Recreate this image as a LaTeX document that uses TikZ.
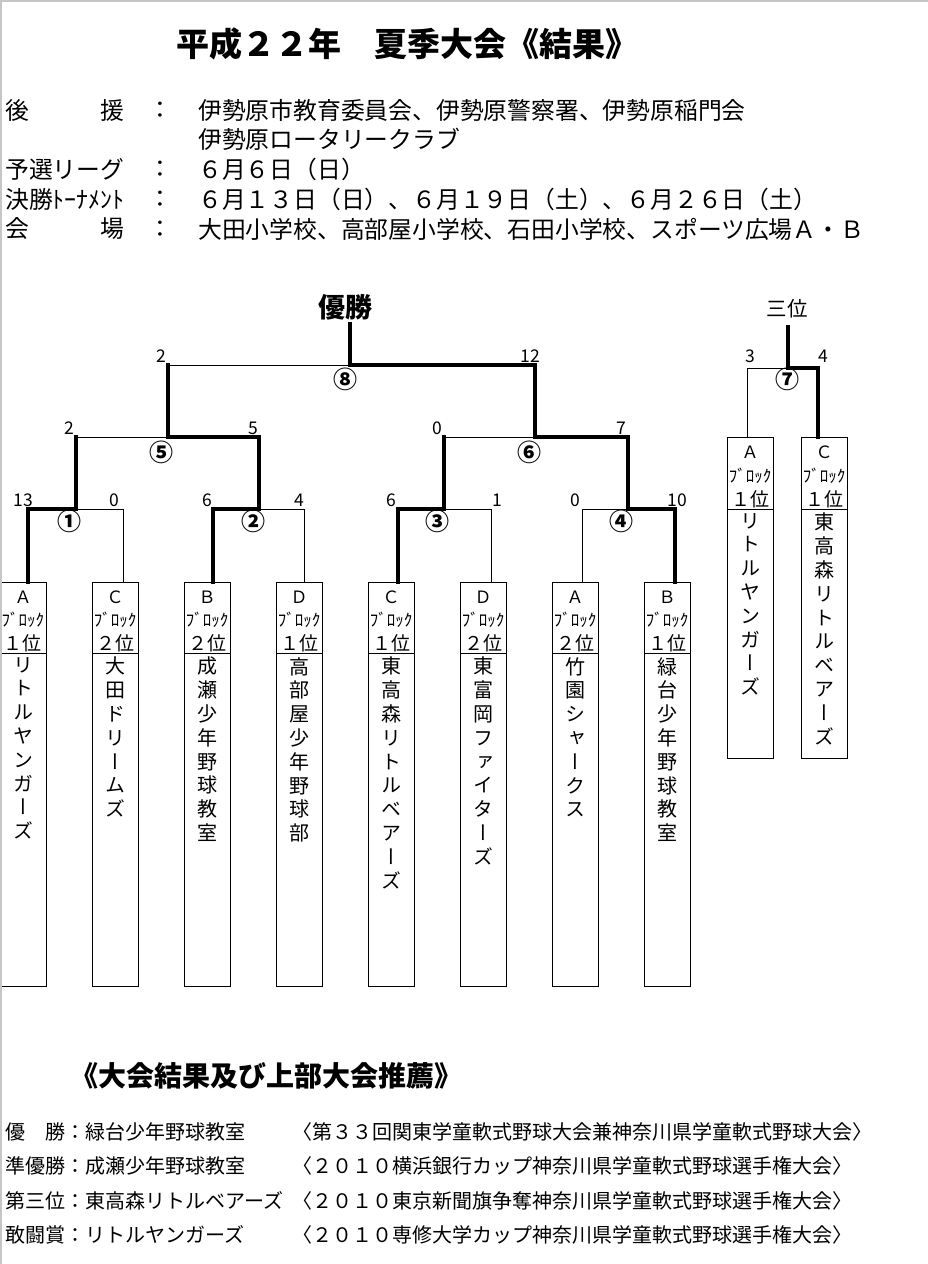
\documentclass[tikz,border=0pt]{standalone}
\usepackage{fontspec}
\setmainfont{Noto Sans CJK JP}
\newfontfamily\tatefont{Noto Sans CJK JP}[RawFeature=+vert]

\tikzset{
	winline/.style={line width=4.5pt, line cap=rect},
	loseline/.style={line width=0.9pt},
	teambox/.style={draw, line width=0.9pt, anchor=north west, minimum width=46pt, inner sep=0pt},
	txt/.style={inner sep=0pt},
	info/.style={txt, anchor=west, font=\fontsize{23.8}{23.8}\selectfont},
	result/.style={txt, anchor=west, font=\fontsize{20}{20}\selectfont},
	score/.style={txt, font=\fontsize{17.5}{17.5}\selectfont},
	gameno/.style={txt, font=\bfseries\fontsize{24}{24}\selectfont},
	blockch/.style={txt, font=\fontsize{17}{17}\selectfont},
	rankch/.style={txt, font=\fontsize{19}{19}\selectfont},
	teamname/.style={txt, anchor=north, align=center, font=\tatefont\fontsize{20}{23.8}\selectfont},
}

\begin{document}
\begin{tikzpicture}[x=1pt, y=-1pt]
	\useasboundingbox (0,0) rectangle (928,1264);
	\def\teamList{0/28/Ａ/１/リ\\ト\\ル\\ヤ\\ン\\ガ\\ー\\ズ, 92/123/Ｃ/２/大\\田\\ド\\リ\\ー\\ム\\ズ, 184/213/Ｂ/２/成\\瀬\\少\\年\\野\\球\\教\\室, 276/304/Ｄ/１/高\\部\\屋\\少\\年\\野\\球\\部, 368/398/Ｃ/１/東\\高\\森\\リ\\ト\\ル\\ベ\\ア\\ー\\ズ, 460/491/Ｄ/２/東\\富\\岡\\フ\\ァ\\イ\\タ\\ー\\ズ, 552/582/Ａ/２/竹\\園\\シ\\ャ\\ー\\ク\\ス, 644/675/Ｂ/１/緑\\台\\少\\年\\野\\球\\教\\室}
	% heading
	\node[txt, anchor=west, font=\bfseries\fontsize{33}{33}\selectfont] (title) at (176,44) {平成２２年　夏季大会《結果》};
	\foreach \lbl/\what/\y [count=\i] in {後　　　援/伊勢原市教育委員会、伊勢原警察署、伊勢原稲門会/110, 予選リーグ/６月６日（日）/169, 決勝ﾄｰﾅﾒﾝﾄ/６月１３日（日）、６月１９日（土）、６月２６日（土）/199, 会　　　場/大田小学校、高部屋小学校、石田小学校、スポーツ広場Ａ・Ｂ/229}
	{
		\node[info] (lbl\i) at (5,\y) {\lbl};
		\node[info, anchor=center] (colon\i) at (160,\y) {：};
		\node[info] (info\i) at (198,\y) {\what};
	}
	\node[info] (info0) at (198,139) {伊勢原ロータリークラブ};
	% teams
	\foreach \l/\fx/\blk/\rk/\team [count=\i] in \teamList
	{
		\node[teambox, minimum height=404pt] (t\i) at (\l,582) {};
		\draw[loseline] ([yshift=-71pt]t\i.north west) -- ([yshift=-71pt]t\i.north east);
		\node[blockch] (blk\i) at (\l+23,597) {\blk};
		\node[blockch] (blt\i) at (\l+23,620) {ﾌﾞﾛｯｸ};
		\node[rankch] (rk\i) at (\l+23,643) {\rk 位};
		\node[teamname] (nm\i) at (\l+23,657) {\team};
		\coordinate (f\i) at (\fx,582);
	}
	\foreach \l/\fx/\blk/\team [count=\i] in {727/747/Ａ/リ\\ト\\ル\\ヤ\\ン\\ガ\\ー\\ズ, 801/818/Ｃ/東\\高\\森\\リ\\ト\\ル\\ベ\\ア\\ー\\ズ}
	{
		\node[teambox, minimum height=321pt] (s\i) at (\l,437) {};
		\draw[loseline] ([yshift=-72pt]s\i.north west) -- ([yshift=-72pt]s\i.north east);
		\node[blockch] (sblk\i) at (\l+23,452) {\blk};
		\node[blockch] (sblt\i) at (\l+23,476) {ﾌﾞﾛｯｸ};
		\node[rankch] (srk\i) at (\l+23,499) {１位};
		\node[teamname] (snm\i) at (\l+23,513) {\team};
		\coordinate (g\i) at (\fx,437);
	}
	% junctions
	\coordinate (m1) at (76,509);
	\coordinate (m2) at (259,509);
	\coordinate (m3) at (444,509);
	\coordinate (m4) at (628,509);
	\coordinate (m5) at (168,437);
	\coordinate (m6) at (535,437);
	\coordinate (m8) at (350,365);
	\coordinate (m7) at (788,368);
	\coordinate (champ) at (350,324);
	\coordinate (bronze) at (788,327);
	\node[txt, font=\bfseries\fontsize{27}{27}\selectfont] (champlbl) at (345,307) {優勝};
	\node[txt, font=\fontsize{20.5}{20.5}\selectfont] (bronzelbl) at (787,309) {三位};
	% bracket
	\foreach \lose/\win/\j/\up in {f2/f1/m1/m5, f4/f3/m2/m5, f6/f5/m3/m6, f7/f8/m4/m6, g1/g2/m7/bronze}
	{
		\draw[loseline] (\lose) |- (\j);
		\draw[winline] (\win) |- (\j) -- (\j |- \up);
	}
	\foreach \lose/\win/\j/\up in {m1/m2/m5/m8, m3/m4/m6/m8, m5/m6/m8/champ}
	{
		\draw[loseline] (\lose |- \j) -- (\j);
		\draw[winline] (\win |- \j) -- (\j) -- (\j |- \up);
	}
	% scores
	\foreach \x/\y/\pts [count=\i] in {23/500/13, 114/500/0, 207/500/6, 299/500/4, 391/500/6, 497/500/1, 575/500/0, 677/500/10, 69/428/2, 253/428/5, 437/428/0, 621/428/7, 161/356/2, 530/356/12, 750/356/3, 823/356/4}
	\node[score] (pts\i) at (\x,\y) {\pts};
	\foreach \x/\y/\no [count=\i] in {69/521/①, 253/521/②, 437/521/③, 621/521/④, 161/452/⑤, 529/452/⑥, 787/379/⑦, 345/379/⑧}
	\node[gameno] (no\i) at (\x,\y) {\no};
	% results
	\node[txt, anchor=west, font=\bfseries\fontsize{28}{28}\selectfont] (results) at (70,1076) {《大会結果及び上部大会推薦》};
	\foreach \who/\prize/\y [count=\i] in {優　勝：緑台少年野球教室/〈第３３回関東学童軟式野球大会兼神奈川県学童軟式野球大会〉/1132, 準優勝：成瀬少年野球教室/〈２０１０横浜銀行カップ神奈川県学童軟式野球選手権大会〉/1166, 第三位：東高森リトルベアーズ/〈２０１０東京新聞旗争奪神奈川県学童軟式野球選手権大会〉/1201, 敢闘賞：リトルヤンガーズ/〈２０１０専修大学カップ神奈川県学童軟式野球選手権大会〉/1235}
	{
		\node[result] (who\i) at (5,\y) {\who};
		\node[result] (prize\i) at (292,\y) {\prize};
	}
	\draw[gray!45, line width=1.5pt] (0.75,1264) -- (0.75,0.75) -- (928,0.75);
\end{tikzpicture}
\end{document}
